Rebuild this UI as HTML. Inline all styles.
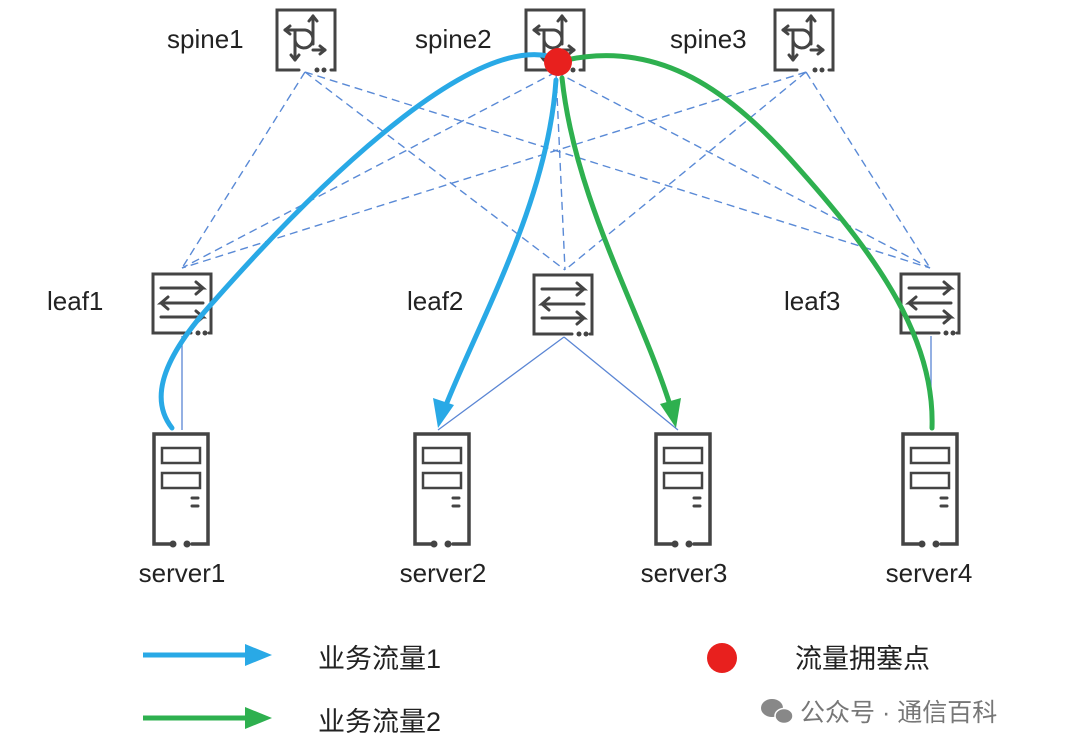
<!DOCTYPE html>
<html><head><meta charset="utf-8"><style>
body{margin:0;background:#fff;}
svg{display:block}
text{font-family:"Liberation Sans","Noto Sans CJK SC",sans-serif;fill:#222}
</style></head><body>
<svg width="1080" height="754" viewBox="0 0 1080 754" xmlns="http://www.w3.org/2000/svg">
<defs>
<g id="spine" fill="none" stroke="#444" stroke-width="3" stroke-linecap="round">
  <path d="M24 62 H2 V2 H60 V62 H56"/>
  <circle cx="42" cy="62" r="2.5" fill="#444" stroke="none"/><circle cx="49" cy="62" r="2.5" fill="#444" stroke="none"/>
  <path d="M10 22 H26"/><path d="M10 22 l5 -4 M10 22 l5 4"/>
  <path d="M38 8 V36"/><path d="M38 8 l-4 5 M38 8 l4 5"/>
  <path d="M38 42 H50"/><path d="M50 42 l-5 -4 M50 42 l-5 4"/>
  <path d="M20 22 V52"/><path d="M20 52 l-4 -5 M20 52 l4 -5"/>
  <path d="M20 32 a9 9 0 1 0 10 -10 H26"/>
</g>
<g id="leaf" fill="none" stroke="#444" stroke-width="3" stroke-linecap="round">
  <path d="M40 61 H2 V2 H60 V61 H58"/>
  <circle cx="47" cy="61" r="2.5" fill="#444" stroke="none"/><circle cx="54" cy="61" r="2.5" fill="#444" stroke="none"/>
  <path d="M10 16 H52 l-7 -6 M52 16 l-7 6"/>
  <path d="M52 31 H10 l7 -6 M10 31 l7 6"/>
  <path d="M10 45 H52 l-7 -6 M52 45 l-7 6"/>
</g>
<g id="server" fill="none" stroke="#444" stroke-width="3.5" stroke-linecap="round">
  <path d="M20 114 H4 V4 H58 V114 H42"/>
  <circle cx="23" cy="114" r="3.5" fill="#444" stroke="none"/><circle cx="37" cy="114" r="3.5" fill="#444" stroke="none"/>
  <rect x="12" y="18" width="38" height="15" stroke-width="2.5"/>
  <rect x="12" y="43" width="38" height="15" stroke-width="2.5"/>
  <path d="M42 68 h6 M42 76 h6" stroke-width="3"/>
</g>
</defs>

<g stroke="#5a8ad6" stroke-width="1.4" stroke-dasharray="8,5" fill="none">
  <path d="M305 72 L182 268 M305 72 L565 270 M305 72 L930 268"/>
  <path d="M556 72 L182 268 M556 72 L565 270 M556 72 L930 268"/>
  <path d="M806 72 L182 268 M806 72 L565 270 M806 72 L930 268"/>
</g>
<g stroke="#5b86d4" stroke-width="1.3" fill="none">
  <path d="M182 336 V430 M564 337 L438 430 M564 337 L678 430 M931 336 V430"/>
</g>

<use href="#spine" x="275" y="8"/>
<use href="#spine" x="524" y="8"/>
<use href="#spine" x="773" y="8"/>
<use href="#leaf" x="151" y="272"/>
<use href="#leaf" x="532" y="273"/>
<use href="#leaf" x="899" y="272"/>
<use href="#server" x="150" y="430"/>
<use href="#server" x="411" y="430"/>
<use href="#server" x="652" y="430"/>
<use href="#server" x="899" y="430"/>

<g fill="none" stroke-width="5" stroke-linecap="round">
  <path d="M172 428 C150 400 160 360 215 300 C330 170 470 40 548 56" stroke="#29a9e6"/>
  <path d="M556 80 C548 200 480 320 446 405" stroke="#29a9e6"/>
  <path d="M562 78 C575 200 640 310 670 405" stroke="#2eb04f"/>
  <path d="M566 60 C660 40 730 90 800 170 C880 260 935 340 932 428" stroke="#2eb04f"/>
</g>
<path d="M438 428 L433 398 L454 405 Z" fill="#29a9e6"/>
<path d="M676 428 L660 404 L681 398 Z" fill="#2eb04f"/>
<circle cx="558" cy="62" r="14" fill="#e8201e"/>

<g font-size="26">
  <text x="167" y="48">spine1</text>
  <text x="415" y="48">spine2</text>
  <text x="670" y="48">spine3</text>
  <text x="47" y="310">leaf1</text>
  <text x="407" y="310">leaf2</text>
  <text x="784" y="310">leaf3</text>
  <text x="182" y="582" text-anchor="middle">server1</text>
  <text x="443" y="582" text-anchor="middle">server2</text>
  <text x="684" y="582" text-anchor="middle">server3</text>
  <text x="929" y="582" text-anchor="middle">server4</text>
</g>

<path d="M143 655 H248" stroke="#29a9e6" stroke-width="5"/>
<path d="M245 644 L272 655 L245 666 Z" fill="#29a9e6"/>
<path d="M143 718 H248" stroke="#2eb04f" stroke-width="5"/>
<path d="M245 707 L272 718 L245 729 Z" fill="#2eb04f"/>
<text x="318" y="668" font-size="27">业务流量1</text>
<text x="318" y="731" font-size="27">业务流量2</text>
<circle cx="722" cy="658" r="15" fill="#e8201e"/>
<text x="795" y="668" font-size="27">流量拥塞点</text>
<g fill="#888">
  <ellipse cx="772" cy="708" rx="11" ry="9"/>
  <ellipse cx="784" cy="716" rx="9" ry="7.5" stroke="#fff" stroke-width="1.5"/>
</g>
<text x="800" y="721" font-size="25" style="fill:#777">公众号 · 通信百科</text>
</svg>
</body></html>
